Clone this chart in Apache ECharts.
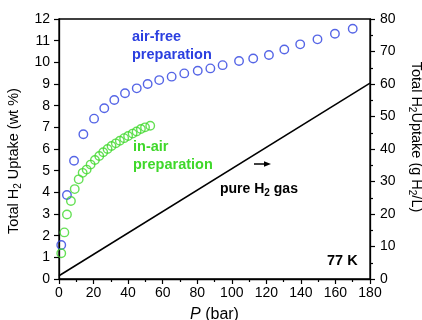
<!DOCTYPE html>
<html>
<head>
<meta charset="utf-8">
<script src="https://cdn.jsdelivr.net/npm/echarts@6/dist/echarts.min.js"></script>
<style>
html,body{margin:0;padding:0;background:#fff;}
#chart{width:422px;height:320px;}
</style>
</head>
<body>
<div id="chart"></div>
<script>
// ---- data ----
const pressureAirFree = [1.3, 4.6, 8.7, 14.1, 20.3, 26.2, 32.0, 38.2, 45.0, 51.3, 58.0, 65.2, 72.5, 80.3, 87.6, 94.7, 104.2, 112.4, 121.5, 130.4, 139.6, 149.6, 159.7, 170.0];
const uptakeAirFree   = [1.57, 3.88, 5.46, 6.68, 7.40, 7.88, 8.26, 8.57, 8.80, 9.00, 9.18, 9.34, 9.49, 9.61, 9.72, 9.87, 10.06, 10.18, 10.34, 10.59, 10.83, 11.06, 11.32, 11.55];
const pressureInAir = [1.3, 3.1, 4.6, 6.9, 9.1, 11.4, 13.7, 16.0, 18.3, 20.8, 23.3, 25.6, 28.1, 30.4, 32.9, 35.2, 37.7, 40.0, 42.6, 44.9, 47.4, 49.8, 52.8];
const uptakeInAir   = [1.19, 2.15, 2.98, 3.60, 4.15, 4.60, 4.90, 5.05, 5.28, 5.49, 5.68, 5.85, 6.00, 6.14, 6.26, 6.38, 6.50, 6.60, 6.71, 6.81, 6.92, 7.00, 7.07];
const pressureGas = [0, 180];
const densityGas  = [1.0, 60.3]; // g H2/L
const xTicks = [0, 20, 40, 60, 80, 100, 120, 140, 160, 180];
const leftTicks = [0,1,2,3,4,5,6,7,8,9,10,11,12];
const rightTicks = [0,10,20,30,40,50,60,70,80];

const BLUE = '#2b3fe0';
const GREEN = '#3fd82a';
const FONT = '"Liberation Sans", Arial, sans-serif';

const zip = (a, b) => a.map((v, i) => [v, b[i]]);

const chart = echarts.init(document.getElementById('chart'), null, {renderer: 'canvas'});

const axisLineStyle = {color: '#000', width: 1.3};
const subRich = {sub: {fontSize: 10, fontFamily: FONT, color: '#000', verticalAlign: 'bottom', lineHeight: 10}};

chart.setOption({
  animation: false,
  backgroundColor: '#fff',
  textStyle: {fontFamily: FONT},
  grid: {left: 59, right: 52, top: 19, bottom: 41, show: true, borderColor: '#000', borderWidth: 1.3,
    containLabel: false, outerBoundsMode: 'none'},
  xAxis: {
    type: 'value', min: xTicks[0], max: xTicks[xTicks.length - 1], interval: xTicks[1] - xTicks[0],
    axisLine: {show: true, onZero: false, lineStyle: axisLineStyle},
    axisTick: {show: true, length: 5, lineStyle: {color: '#000', width: 1.2}},
    minorTick: {show: true, splitNumber: 2, length: 3, lineStyle: {color: '#000', width: 1.2}},
    splitLine: {show: false},
    axisLabel: {color: '#000', fontSize: 14, fontFamily: FONT, margin: 7},
    name: '{it|P} (bar)', nameLocation: 'middle', nameGap: 24,
    nameTextStyle: {color: '#000', fontSize: 16, fontFamily: FONT, lineHeight: 20,
      rich: {it: {fontStyle: 'italic', fontSize: 16, fontFamily: FONT, color: '#000', lineHeight: 20}}}
  },
  yAxis: [{
    type: 'value', position: 'left', min: leftTicks[0], max: leftTicks[leftTicks.length - 1], interval: 1,
    axisLine: {show: true, onZero: false, lineStyle: axisLineStyle},
    axisTick: {show: true, length: 5, lineStyle: {color: '#000', width: 1.2}},
    splitLine: {show: false},
    axisLabel: {color: '#000', fontSize: 14, fontFamily: FONT, margin: 9},
    name: 'Total H{sub|2} Uptake (wt %)', nameLocation: 'middle', nameGap: 28,
    nameTextStyle: {color: '#000', fontSize: 14.5, fontFamily: FONT, lineHeight: 20, padding: [0, 24, 0, 0], rich: subRich}
  }, {
    type: 'value', position: 'right', min: rightTicks[0], max: rightTicks[rightTicks.length - 1], interval: 10,
    axisLine: {show: true, onZero: false, lineStyle: axisLineStyle},
    axisTick: {show: true, length: 5, lineStyle: {color: '#000', width: 1.2}},
    minorTick: {show: true, splitNumber: 2, length: 3, lineStyle: {color: '#000', width: 1.2}},
    splitLine: {show: false},
    axisLabel: {color: '#000', fontSize: 14, fontFamily: FONT, margin: 10},
    name: 'Total H{sub|2}Uptake (g H{sub|2}/L)', nameLocation: 'middle', nameGap: 28, nameRotate: -90,
    nameTextStyle: {color: '#000', fontSize: 14.5, fontFamily: FONT, lineHeight: 20, padding: [0, 24, 0, 0], rich: subRich}
  }],
  series: [{
    name: 'pure H2 gas', type: 'line', yAxisIndex: 1, data: zip(pressureGas, densityGas),
    showSymbol: false, lineStyle: {color: '#000', width: 1.5}, z: 1
  }, {
    name: 'air-free preparation', type: 'scatter', data: zip(pressureAirFree, uptakeAirFree),
    symbol: 'circle', symbolSize: 8.5,
    itemStyle: {color: 'rgba(0,0,0,0)', borderColor: BLUE, borderWidth: 1.4}, z: 3
  }, {
    name: 'in-air preparation', type: 'scatter', data: zip(pressureInAir, uptakeInAir),
    symbol: 'circle', symbolSize: 8.5,
    itemStyle: {color: 'rgba(0,0,0,0)', borderColor: GREEN, borderWidth: 1.4}, z: 3
  }],
  graphic: [
    {type: 'text', x: 132, y: 28, style: {text: 'air-free\npreparation', fill: BLUE,
      font: 'bold 14.5px ' + FONT, lineHeight: 18, align: 'left', textAlign: 'left', verticalAlign: 'top', textVerticalAlign: 'top'}},
    {type: 'text', x: 133, y: 138, style: {text: 'in-air\npreparation', fill: GREEN,
      font: 'bold 14.5px ' + FONT, lineHeight: 18, align: 'left', textAlign: 'left', verticalAlign: 'top', textVerticalAlign: 'top'}},
    {type: 'text', x: 220, y: 180, style: {text: 'pure H{s|2} gas', fill: '#000',
      font: 'bold 14px ' + FONT, lineHeight: 18, align: 'left', textAlign: 'left', verticalAlign: 'top', textVerticalAlign: 'top',
      rich: {s: {font: 'bold 10px ' + FONT, fill: '#000', verticalAlign: 'bottom', lineHeight: 10}}}},
    {type: 'text', x: 327, y: 253, style: {text: '77 K', fill: '#000',
      font: 'bold 14.5px ' + FONT, align: 'left', textAlign: 'left', verticalAlign: 'top', textVerticalAlign: 'top'}},
    {type: 'line', shape: {x1: 254, y1: 164, x2: 266, y2: 164}, style: {stroke: '#000', lineWidth: 1.5}},
    {type: 'polygon', shape: {points: [[264, 161.3], [271, 164], [264, 166.7]]}, style: {fill: '#000'}}
  ]
});
</script>
</body>
</html>
